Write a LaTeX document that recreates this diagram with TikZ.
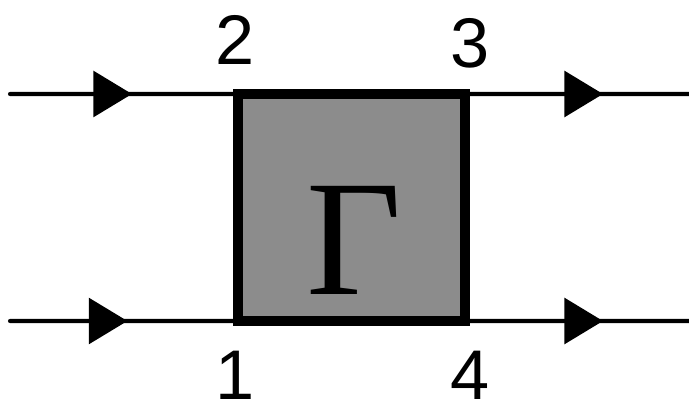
\documentclass[tikz,border=0pt]{standalone}
\usepackage{fontspec}
\setmainfont{Liberation Sans}
\newfontfamily\gammafont{Liberation Serif}
\usetikzlibrary{arrows.meta, decorations.markings, positioning}
\tikzset{
  wire/.style       = {black, line width=2.3pt, line cap=round},
  arrowhead/.style  = {decoration={markings,
                        mark=at position #1 with {\arrow{Triangle[length=22pt, width=26pt]}}},
                       postaction={decorate}},
  blockbox/.style   = {draw=black, line width=5.7pt, fill=black!45,
                       minimum size=4.54cm, inner sep=0pt, outer sep=0pt},
  portlbl/.style    = {font=\fontsize{40}{40}\selectfont, inner sep=0pt},
  symlbl/.style     = {font=\gammafont\fontsize{94}{94}\selectfont, inner sep=0pt},
}
\begin{document}
\begin{tikzpicture}
  \useasboundingbox (0,0) rectangle (13.78,8.14);

  \coordinate (inTop) at (0.2,6.26);
  \coordinate (inBot) at (0.2,1.72);
  \coordinate (outTop) at (13.9,6.26);
  \coordinate (outBot) at (13.9,1.72);

  \node[blockbox] (block) at (7.03,3.99) {};

  \draw[wire, arrowhead=0.535] (inTop) -- (block.north west);
  \draw[wire, arrowhead=0.515] (inBot) -- (block.south west);
  \draw[wire, arrowhead=0.60] (block.north east) -- (outTop);
  \draw[wire, arrowhead=0.60] (block.south east) -- (outBot);
  \node[blockbox, fill=none] at (block) {};

  \node[symlbl] (gam) at (7.08,3.34) {Γ};

  \node[portlbl] (p2) at (4.70,7.34) {2};
  \node[portlbl] (p3) at (9.40,7.28) {3};
  \node[portlbl] (p1) at (4.70,0.64) {1};
  \node[portlbl] (p4) at (9.40,0.64) {4};
\end{tikzpicture}
\end{document}
